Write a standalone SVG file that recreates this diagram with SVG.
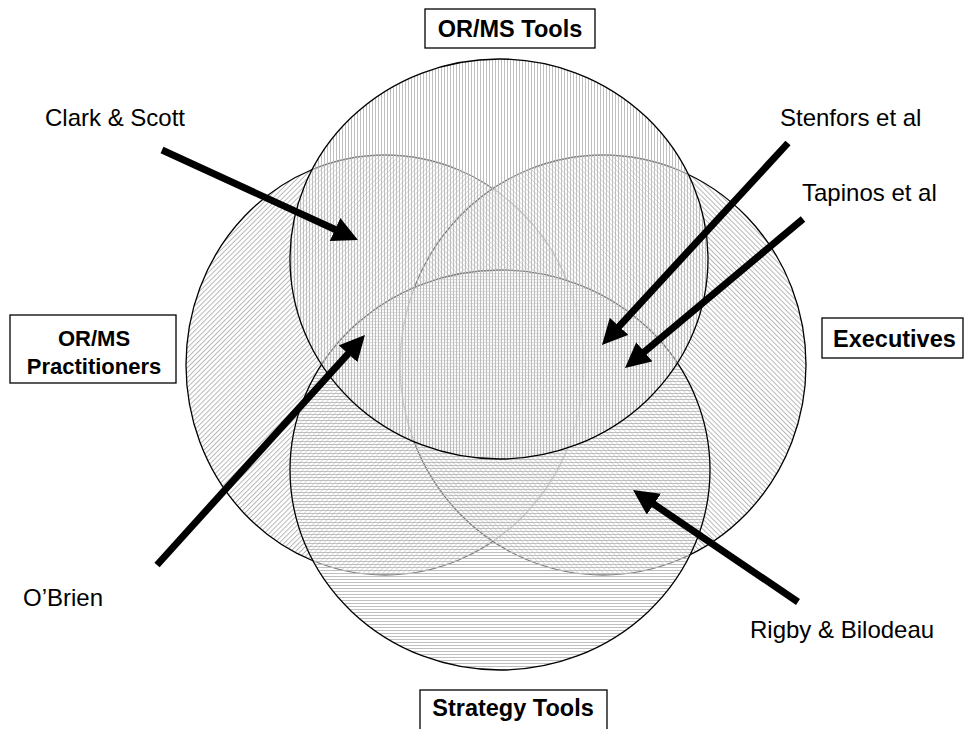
<svg xmlns="http://www.w3.org/2000/svg" width="965" height="729" viewBox="0 0 965 729">
<style>
.lbl{font-family:"Liberation Sans",Arial,sans-serif;font-size:24px;fill:#000}
.hd{font-family:"Liberation Sans",Arial,sans-serif;font-size:23.5px;font-weight:bold;fill:#000}
.hd2{font-size:22px}
.box{fill:#fff;stroke:#000;stroke-width:1.3}
.circ{stroke:#000;stroke-width:1.3}
.arrow{stroke:#000;stroke-width:7;fill:none;marker-end:url(#ah)}
</style>
<defs>
<pattern id="pV" width="3" height="3" patternUnits="userSpaceOnUse">
<rect width="3" height="3" fill="#fff" fill-opacity="0.5"/>
<line x1="0.5" y1="0" x2="0.5" y2="3" stroke="#b8b8b8" stroke-width="0.9"/>
</pattern>
<pattern id="pH" width="3" height="3" patternUnits="userSpaceOnUse">
<rect width="3" height="3" fill="#fff" fill-opacity="0.5"/>
<line x1="0" y1="0.5" x2="3" y2="0.5" stroke="#b8b8b8" stroke-width="0.9"/>
</pattern>
<pattern id="pL" width="3.5" height="3.5" patternUnits="userSpaceOnUse" patternTransform="rotate(45)">
<rect width="3.5" height="3.5" fill="#fff" fill-opacity="0.5"/>
<line x1="0.5" y1="0" x2="0.5" y2="3.5" stroke="#b0b0b0" stroke-width="0.9"/>
</pattern>
<pattern id="pR" width="3.5" height="3.5" patternUnits="userSpaceOnUse" patternTransform="rotate(-45)">
<rect width="3.5" height="3.5" fill="#fff" fill-opacity="0.5"/>
<line x1="0.5" y1="0" x2="0.5" y2="3.5" stroke="#b0b0b0" stroke-width="0.9"/>
</pattern>
<marker id="ah" viewBox="0 0 10 10" refX="0.5" refY="5" markerWidth="3.6" markerHeight="3.6" orient="auto" markerUnits="strokeWidth">
<path d="M0,0 L10,5 L0,10 z" fill="#000"/>
</marker>
</defs>
<rect width="965" height="729" fill="#fff"/>

<g id="practitioners-circle"><ellipse class="circ" cx="385" cy="365" rx="199" ry="210" fill="url(#pL)"/></g>
<g id="executives-circle"><ellipse class="circ" cx="603" cy="365" rx="203" ry="210" fill="url(#pR)"/></g>
<g id="strategy-circle"><ellipse class="circ" cx="500" cy="470" rx="210" ry="200" fill="url(#pH)"/></g>
<g id="ormstools-circle"><ellipse class="circ" cx="499" cy="259" rx="209" ry="200" fill="url(#pV)"/></g>

<g id="connectors">
<line class="arrow" x1="162" y1="150" x2="336.2" y2="230"/>
<line class="arrow" x1="788" y1="143" x2="618.2" y2="327.3"/>
<line class="arrow" x1="803" y1="219" x2="643.4" y2="352.6"/>
<line class="arrow" x1="157" y1="565" x2="348.9" y2="352.8"/>
<line class="arrow" x1="798" y1="602" x2="652.8" y2="503.5"/>
</g>

<g id="ormstools-label"><rect class="box" x="425" y="9" width="170" height="39"/><text class="hd" x="510" y="37" text-anchor="middle">OR/MS Tools</text></g>
<g id="practitioners-label"><rect class="box" x="10" y="315" width="166" height="68"/><text class="hd hd2" x="94" y="346" text-anchor="middle">OR/MS</text><text class="hd hd2" x="94" y="374" text-anchor="middle">Practitioners</text></g>
<g id="executives-label"><rect class="box" x="822" y="318" width="141" height="40"/><text class="hd" x="833" y="347">Executives</text></g>
<g id="strategy-label"><rect class="box" x="420" y="690" width="187" height="50"/><text class="hd" x="513" y="716" text-anchor="middle">Strategy Tools</text></g>

<g id="clark-scott"><text class="lbl" x="45" y="126">Clark &amp; Scott</text></g>
<g id="stenfors"><text class="lbl" x="780" y="126">Stenfors et al</text></g>
<g id="tapinos"><text class="lbl" x="802" y="201">Tapinos et al</text></g>
<g id="obrien"><text class="lbl" x="23" y="606">O’Brien</text></g>
<g id="rigby"><text class="lbl" x="750" y="638">Rigby &amp; Bilodeau</text></g>
</svg>
